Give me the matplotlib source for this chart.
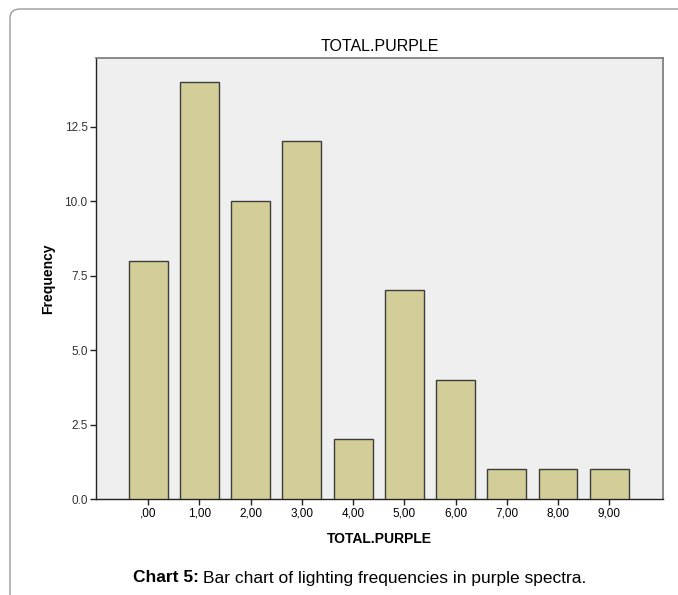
import matplotlib.pyplot as plt
from matplotlib.patches import FancyBboxPatch

plt.rcParams['font.family'] = ['Liberation Sans Narrow', 'Liberation Sans', 'DejaVu Sans']

# values
categories = [',00', '1,00', '2,00', '3,00', '4,00', '5,00', '6,00', '7,00', '8,00', '9,00']
frequency = [8, 14, 10, 12, 2, 7, 4, 1, 1, 1]
yticks = [0.0, 2.5, 5.0, 7.5, 10.0, 12.5]
ytick_labels = ['0.0', '2.5', '5.0', '7.5', '10.0', '12.5']

W, H = 678, 595
fig = plt.figure(figsize=(W / 100, H / 100), dpi=100)

# rounded frame around the figure area
frame = FancyBboxPatch((10 / W, -0.05), 1.2, 1 - 9 / H + 0.05,
                       boxstyle='round,pad=0,rounding_size=0.015',
                       transform=fig.transFigure, fill=False,
                       edgecolor='#9a9a9a', linewidth=1.0)
fig.patches.append(frame)

ax = fig.add_axes([96 / W, 1 - 499 / H, (663 - 96) / W, (499 - 58) / H])
ax.set_facecolor('#efefef')

x = range(len(categories))
ax.bar(x, frequency, width=0.76, color='#d3ce98', edgecolor='#3c3c3c', linewidth=1.0, zorder=3)

ax.set_xlim(-1.02, 10.05)
ax.set_ylim(0, 14.8)
ax.set_xticks(list(x))
ax.set_xticklabels(categories, fontsize=8.5)
ax.set_yticks(yticks)
ax.set_yticklabels(ytick_labels, fontsize=8.5, color='#333333')
ax.tick_params(axis='both', direction='out', length=4, width=1, color='#222222', pad=2)

for side in ['top', 'right']:
    ax.spines[side].set_color('#777777')
    ax.spines[side].set_linewidth(1.2)
for side in ['left', 'bottom']:
    ax.spines[side].set_color('#222222')
    ax.spines[side].set_linewidth(1.0)

ax.set_title('TOTAL.PURPLE', fontsize=11.5, pad=5)
ax.set_xlabel('TOTAL.PURPLE', fontsize=10, fontweight='bold', labelpad=9)
ax.set_ylabel('Frequency', fontsize=10, fontweight='bold', labelpad=7)

# caption: bold lead-in followed by regular text
cap_font = ['Liberation Sans', 'DejaVu Sans']
renderer = fig.canvas.get_renderer()
lead = fig.text(133 / W, 1 - 578 / H, 'Chart 5:', ha='left', va='center',
                fontsize=12.5, fontweight='bold', family=cap_font)
bb = lead.get_window_extent(renderer)
fig.text((bb.x1 + 4) / W, 1 - 578 / H, 'Bar chart of lighting frequencies in purple spectra.',
         ha='left', va='center', fontsize=12.5, family=cap_font)

fig.savefig('out.png', dpi=100)
